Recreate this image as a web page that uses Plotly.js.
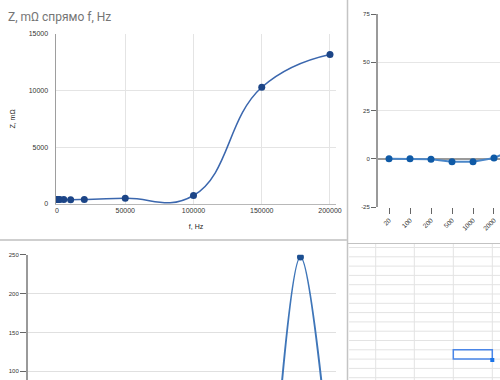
<!DOCTYPE html>
<html>
<head>
<meta charset="utf-8">
<script src="https://cdn.plot.ly/plotly-3.0.1.min.js"></script>
<style>
  html, body { margin: 0; padding: 0; background: #fff; }
  #chart { width: 500px; height: 380px; }
</style>
</head>
<body>
<div id="chart"></div>
<script>
// ---- data ----
const freqHz = [20, 100, 200, 500, 1000, 2000, 5000, 10000, 20000, 50000, 100000, 150000, 200000];
const zMilliOhm = [400, 400, 400, 400, 400, 390, 390, 380, 400, 500, 750, 10300, 13200];
const freqLabels = ['20', '100', '200', '500', '1000', '2000', '5000', '10000', '20000', '50000', '100000', '150000', '200000'];
const phaseCats = ['20', '100', '200', '500', '1000', '2000', '5000'];
const phaseVals = [0, 0, -0.3, -1.5, -1.5, 0.4, 5];
const lowerCats = ['100000', '150000', '200000'];
const lowerVals = [10, 247, 55];
const mainXTicks = [0, 50000, 100000, 150000, 200000];
const mainYTicks = [0, 5000, 10000, 15000];
const phaseYTicks = [-25, 0, 25, 50, 75];
const lowerYTicks = [100, 150, 200, 250];

const W = 500, H = 380;
const px = v => v / W;
const py = v => 1 - v / H;
const tickFont = { family: 'Arial, Liberation Sans, sans-serif', size: 7, color: '#333' };
const smallFont = { family: 'Arial, Liberation Sans, sans-serif', size: 6, color: '#333' };
const rotFont = { family: 'Arial, Liberation Sans, sans-serif', size: 6.5, color: '#333' };

const traces = [
  {
    x: freqHz, y: zMilliOhm, xaxis: 'x', yaxis: 'y',
    mode: 'lines+markers', type: 'scatter',
    line: { shape: 'spline', smoothing: 1.3, color: '#3b67ae', width: 1.5 },
    marker: { size: 7, color: '#1c4587' }
  },
  {
    x: phaseCats, y: phaseVals, xaxis: 'x2', yaxis: 'y2',
    mode: 'lines+markers', type: 'scatter',
    line: { color: '#4a86c8', width: 2 },
    marker: { size: 7, color: '#0f5aa6' }
  },
  {
    x: lowerCats, y: lowerVals, xaxis: 'x3', yaxis: 'y3',
    mode: 'lines+markers', type: 'scatter',
    line: { shape: 'spline', smoothing: 1, color: '#3f76b9', width: 2 },
    marker: { size: 7, color: '#1c4f91' }
  }
];

// spreadsheet & panel decoration
const shapes = [];
const gridCol = '#e3e3e3';
[375.7, 414.3, 453.3, 492.3].forEach(xv => {
  shapes.push({ type: 'line', xref: 'paper', yref: 'paper', x0: px(xv), x1: px(xv), y0: 0, y1: py(244), line: { color: gridCol, width: 1 } });
});
for (let r = 247.5; r < H; r += 9.3) {
  shapes.push({ type: 'line', xref: 'paper', yref: 'paper', x0: px(349), x1: 1, y0: py(r), y1: py(r), line: { color: gridCol, width: 1 } });
}
shapes.push({ type: 'line', xref: 'paper', yref: 'paper', x0: px(347.5), x1: px(347.5), y0: 0, y1: 1, line: { color: '#c4c4c4', width: 1.5 } });
shapes.push({ type: 'line', xref: 'paper', yref: 'paper', x0: 0, x1: px(347), y0: py(240), y1: py(240), line: { color: '#cfcfcf', width: 2 } });
shapes.push({ type: 'line', xref: 'paper', yref: 'paper', x0: px(347), x1: 1, y0: py(243.5), y1: py(243.5), line: { color: '#c2c2c2', width: 1 } });
shapes.push({ type: 'rect', xref: 'paper', yref: 'paper', x0: px(453.3), x1: px(492.3), y0: py(359.1), y1: py(349.8), line: { color: '#4a86e8', width: 1.5 }, fillcolor: 'rgba(0,0,0,0)' });
shapes.push({ type: 'rect', xref: 'paper', yref: 'paper', x0: px(490.3), x1: px(494.3), y0: py(362), y1: py(358), line: { color: '#1a73e8', width: 0 }, fillcolor: '#1a73e8' });

const layout = {
  width: W, height: H,
  margin: { l: 0, r: 0, t: 0, b: 0, pad: 0, autoexpand: false },
  paper_bgcolor: '#fff', plot_bgcolor: 'rgba(0,0,0,0)',
  showlegend: false,
  title: {
    text: 'Z, mΩ спрямо f, Hz',
    x: px(8), xanchor: 'left', xref: 'paper',
    y: py(17), yanchor: 'middle', yref: 'container',
    font: { family: 'Roboto, Arial, sans-serif', size: 12, color: '#757575' }
  },
  xaxis: {
    domain: [px(56), px(336)], anchor: 'y',
    range: [-733, 204400],
    tickvals: mainXTicks, ticktext: mainXTicks.map(String),
    showgrid: true, gridcolor: '#e4e4e4', gridwidth: 1,
    zeroline: false, showline: true, linecolor: '#b8b8b8', linewidth: 1,
    ticks: '', tickfont: tickFont,
    title: { text: 'f, Hz', font: { family: 'Arial, sans-serif', size: 7, color: '#222' }, standoff: 10 }
  },
  yaxis: {
    domain: [py(204), py(34)], anchor: 'x',
    range: [0, 15000],
    tickvals: mainYTicks, ticktext: mainYTicks.map(String),
    showgrid: true, gridcolor: '#e4e4e4',
    zeroline: false, showline: true, linecolor: '#9e9e9e', linewidth: 1.5,
    ticks: 'outside', ticklen: 5, tickcolor: 'rgba(0,0,0,0)', tickfont: tickFont,
    title: { text: 'Z, mΩ', font: { family: 'Arial, sans-serif', size: 7, color: '#222' }, standoff: 12 }
  },
  xaxis2: {
    domain: [px(378), 1], anchor: 'y2',
    type: 'category', categoryorder: 'array', categoryarray: freqLabels,
    range: [-0.524, 5.286],
    showgrid: false, zeroline: false, showline: false,
    ticks: 'outside', ticklen: 6, tickcolor: '#666', tickwidth: 1,
    tickangle: -45, tickfont: rotFont
  },
  yaxis2: {
    domain: [py(207), py(14)], anchor: 'x2',
    range: [-25, 75],
    tickvals: phaseYTicks, ticktext: phaseYTicks.map(String),
    showgrid: true, gridcolor: '#e6e6e6',
    zeroline: true, zerolinecolor: '#9a9a9a', zerolinewidth: 1.5,
    showline: true, linecolor: '#9a9a9a', linewidth: 2,
    ticks: 'outside', ticklen: 5, tickcolor: '#666', tickfont: smallFont
  },
  xaxis3: {
    domain: [px(28), px(336)], anchor: 'y3',
    type: 'category', categoryorder: 'array', categoryarray: freqLabels,
    range: [-0.5, 12.5],
    showgrid: false, zeroline: false, showline: false, showticklabels: false, ticks: ''
  },
  yaxis3: {
    domain: [0, py(254.7)], anchor: 'x3',
    range: [88.8, 250],
    tickvals: lowerYTicks, ticktext: lowerYTicks.map(String),
    showgrid: true, gridcolor: '#e0e0e0',
    zeroline: false, showline: true, linecolor: '#9a9a9a', linewidth: 2,
    ticks: 'outside', ticklen: 6, tickcolor: '#666', tickfont: smallFont
  },
  shapes: shapes
};

Plotly.newPlot('chart', traces, layout, { staticPlot: true, displayModeBar: false });
</script>
</body>
</html>
